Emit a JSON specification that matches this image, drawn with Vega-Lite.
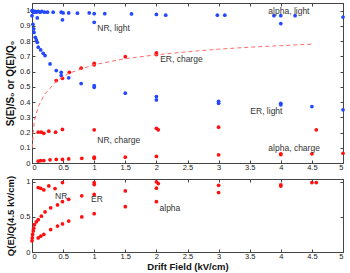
{
  "$schema": "https://vega.github.io/schema/vega-lite/v6.json",
  "padding": {"left": 5, "top": 2, "right": 5, "bottom": 1},
  "spacing": 3,
  "config": {
    "font": "Liberation Sans",
    "view": {"stroke": "#444", "strokeWidth": 1},
    "axis": {"grid": false, "domainColor": "#444", "tickColor": "#444", "tickSize": -3, "labelPadding": 3, "labelFontSize": 7.5, "labelColor": "#222", "titleFontSize": 9.5, "titleFontWeight": "bold", "titleColor": "#111", "labelFont": "Liberation Sans", "titleFont": "Liberation Sans", "format": "~g"},
    "text": {"font": "Liberation Sans", "fontSize": 8.5, "color": "#333"}
  },
  "datasets": {
    "top": [
      {"kind": "light", "x": 0, "y": 1.0}, {"kind": "light", "x": 0.01, "y": 0.995}, {"kind": "light", "x": 0.02, "y": 0.997}, {"kind": "light", "x": 0.03, "y": 0.99}, {"kind": "light", "x": 0.05, "y": 0.995}, {"kind": "light", "x": 0.07, "y": 0.99}, {"kind": "light", "x": 0.1, "y": 0.995}, {"kind": "light", "x": 0.13, "y": 0.99}, {"kind": "light", "x": 0.16, "y": 0.995}, {"kind": "light", "x": 0.2, "y": 0.99}, {"kind": "light", "x": 0.25, "y": 0.99}, {"kind": "light", "x": 0.34, "y": 0.99}, {"kind": "light", "x": 0.47, "y": 0.99}, {"kind": "light", "x": 0.5, "y": 0.985}, {"kind": "light", "x": 0.59, "y": 0.985}, {"kind": "light", "x": 0.73, "y": 0.983}, {"kind": "light", "x": 0.92, "y": 0.985}, {"kind": "light", "x": 1.0, "y": 0.98}, {"kind": "light", "x": 1.17, "y": 0.98},
      {"kind": "light", "x": 0.085, "y": 0.952}, {"kind": "light", "x": 0.49, "y": 0.94}, {"kind": "light", "x": 1.0, "y": 0.923},
      {"kind": "light", "x": 1.6, "y": 0.978}, {"kind": "light", "x": 2.0, "y": 0.975}, {"kind": "light", "x": 2.15, "y": 0.97}, {"kind": "light", "x": 2.98, "y": 0.97}, {"kind": "light", "x": 3.1, "y": 0.97}, {"kind": "light", "x": 3.89, "y": 0.967}, {"kind": "light", "x": 4.0, "y": 0.967}, {"kind": "light", "x": 4.0, "y": 0.915}, {"kind": "light", "x": 4.23, "y": 0.967}, {"kind": "light", "x": 5.0, "y": 0.958},
      {"kind": "light", "x": 0.0, "y": 0.967}, {"kind": "light", "x": 0.016, "y": 0.91}, {"kind": "light", "x": 0.027, "y": 0.88}, {"kind": "light", "x": 0.032, "y": 0.857}, {"kind": "light", "x": 0.053, "y": 0.825}, {"kind": "light", "x": 0.07, "y": 0.808}, {"kind": "light", "x": 0.085, "y": 0.792}, {"kind": "light", "x": 0.1, "y": 0.76}, {"kind": "light", "x": 0.14, "y": 0.742}, {"kind": "light", "x": 0.18, "y": 0.72}, {"kind": "light", "x": 0.21, "y": 0.705}, {"kind": "light", "x": 0.29, "y": 0.65}, {"kind": "light", "x": 0.39, "y": 0.607}, {"kind": "light", "x": 0.47, "y": 0.595}, {"kind": "light", "x": 0.47, "y": 0.574}, {"kind": "light", "x": 0.59, "y": 0.559}, {"kind": "light", "x": 0.79, "y": 0.521}, {"kind": "light", "x": 1.0, "y": 0.508}, {"kind": "light", "x": 1.0, "y": 0.497}, {"kind": "light", "x": 1.5, "y": 0.458}, {"kind": "light", "x": 2.0, "y": 0.436}, {"kind": "light", "x": 2.0, "y": 0.414}, {"kind": "light", "x": 3.0, "y": 0.405}, {"kind": "light", "x": 3.0, "y": 0.392}, {"kind": "light", "x": 4.0, "y": 0.392}, {"kind": "light", "x": 4.0, "y": 0.382}, {"kind": "light", "x": 4.5, "y": 0.37}, {"kind": "light", "x": 5.0, "y": 0.349},
      {"kind": "charge", "x": 0.39, "y": 0.541}, {"kind": "charge", "x": 0.49, "y": 0.556}, {"kind": "charge", "x": 0.6, "y": 0.595}, {"kind": "charge", "x": 0.79, "y": 0.622}, {"kind": "charge", "x": 1.0, "y": 0.654}, {"kind": "charge", "x": 1.0, "y": 0.644}, {"kind": "charge", "x": 1.5, "y": 0.698}, {"kind": "charge", "x": 2.0, "y": 0.722}, {"kind": "charge", "x": 2.0, "y": 0.712},
      {"kind": "charge", "x": 0.1, "y": 0.202}, {"kind": "charge", "x": 0.15, "y": 0.202}, {"kind": "charge", "x": 0.19, "y": 0.195}, {"kind": "charge", "x": 0.27, "y": 0.209}, {"kind": "charge", "x": 0.38, "y": 0.202}, {"kind": "charge", "x": 0.49, "y": 0.22}, {"kind": "charge", "x": 1.0, "y": 0.218}, {"kind": "charge", "x": 2.0, "y": 0.228}, {"kind": "charge", "x": 2.03, "y": 0.218}, {"kind": "charge", "x": 3.0, "y": 0.235}, {"kind": "charge", "x": 4.57, "y": 0.218},
      {"kind": "charge", "x": 0.1, "y": 0.012}, {"kind": "charge", "x": 0.14, "y": 0.016}, {"kind": "charge", "x": 0.19, "y": 0.016}, {"kind": "charge", "x": 0.29, "y": 0.021}, {"kind": "charge", "x": 0.39, "y": 0.023}, {"kind": "charge", "x": 0.49, "y": 0.023}, {"kind": "charge", "x": 0.59, "y": 0.027}, {"kind": "charge", "x": 0.8, "y": 0.031}, {"kind": "charge", "x": 1.0, "y": 0.031}, {"kind": "charge", "x": 1.0, "y": 0.038}, {"kind": "charge", "x": 1.5, "y": 0.038}, {"kind": "charge", "x": 2.0, "y": 0.043}, {"kind": "charge", "x": 3.0, "y": 0.054}, {"kind": "charge", "x": 4.0, "y": 0.06}, {"kind": "charge", "x": 4.0, "y": 0.055}, {"kind": "charge", "x": 4.5, "y": 0.06}, {"kind": "charge", "x": 5.0, "y": 0.064}
    ],
    "curve": [
      {"x": 0.005, "y": 0.1}, {"x": 0.02, "y": 0.2}, {"x": 0.04, "y": 0.28}, {"x": 0.1, "y": 0.37}, {"x": 0.2, "y": 0.45}, {"x": 0.4, "y": 0.54}, {"x": 0.6, "y": 0.59}, {"x": 1.0, "y": 0.645}, {"x": 1.5, "y": 0.685}, {"x": 2.0, "y": 0.71}, {"x": 2.5, "y": 0.73}, {"x": 3.0, "y": 0.747}, {"x": 3.5, "y": 0.76}, {"x": 4.0, "y": 0.77}, {"x": 4.5, "y": 0.78}
    ],
    "toplabels": [
      {"x": 1.05, "y": 0.885, "t": "NR, light"},
      {"x": 3.8, "y": 1.0, "t": "alpha, light"},
      {"x": 2.06, "y": 0.68, "t": "ER, charge"},
      {"x": 3.51, "y": 0.344, "t": "ER, light"},
      {"x": 1.05, "y": 0.148, "t": "NR, charge"},
      {"x": 3.8, "y": 0.1, "t": "alpha, charge"}
    ],
    "bottom": [
      {"x": 0.1, "y": 0.918}, {"x": 0.14, "y": 0.908}, {"x": 0.19, "y": 0.885}, {"x": 0.27, "y": 0.942}, {"x": 0.37, "y": 0.904}, {"x": 0.49, "y": 0.99}, {"x": 1.0, "y": 0.99}, {"x": 1.0, "y": 0.96}, {"x": 1.5, "y": 0.87}, {"x": 2.0, "y": 1.0}, {"x": 2.03, "y": 0.975}, {"x": 2.0, "y": 0.91}, {"x": 3.0, "y": 0.95}, {"x": 3.0, "y": 0.846}, {"x": 4.0, "y": 0.957}, {"x": 4.0, "y": 0.94}, {"x": 4.5, "y": 0.99}, {"x": 4.57, "y": 0.99},
      {"x": 0.0, "y": 0.16}, {"x": 0.005, "y": 0.2}, {"x": 0.01, "y": 0.25}, {"x": 0.02, "y": 0.3}, {"x": 0.027, "y": 0.34}, {"x": 0.04, "y": 0.39}, {"x": 0.07, "y": 0.43}, {"x": 0.1, "y": 0.46}, {"x": 0.15, "y": 0.51}, {"x": 0.21, "y": 0.57}, {"x": 0.3, "y": 0.63}, {"x": 0.41, "y": 0.67}, {"x": 0.49, "y": 0.717}, {"x": 0.59, "y": 0.75}, {"x": 0.8, "y": 0.8}, {"x": 1.0, "y": 0.82},
      {"x": 0.1, "y": 0.2}, {"x": 0.14, "y": 0.225}, {"x": 0.19, "y": 0.25}, {"x": 0.3, "y": 0.32}, {"x": 0.41, "y": 0.37}, {"x": 0.49, "y": 0.4}, {"x": 0.59, "y": 0.44}, {"x": 0.8, "y": 0.5}, {"x": 1.0, "y": 0.545}, {"x": 1.5, "y": 0.646}, {"x": 2.0, "y": 0.717}
    ],
    "bottomlabels": [
      {"x": 0.37, "y": 0.8, "t": "NR"},
      {"x": 0.95, "y": 0.76, "t": "ER"},
      {"x": 2.05, "y": 0.63, "t": "alpha"}
    ]
  },
  "vconcat": [
    {
      "width": 311,
      "height": 160,
      "resolve": {"axis": {"x": "independent", "y": "independent"}},
      "layer": [
        {
          "data": {"name": "top"},
          "mark": {"type": "circle", "size": 14, "opacity": 1},
          "encoding": {
            "x": {"field": "x", "type": "quantitative", "scale": {"domain": [0, 5], "nice": false}, "axis": {"title": null, "values": [0, 0.5, 1, 1.5, 2, 2.5, 3, 3.5, 4, 4.5, 5]}},
            "y": {"field": "y", "type": "quantitative", "scale": {"domain": [0, 1.05], "nice": false}, "axis": {"title": "S(E)/S₀ or Q(E)/Q₀", "titleFontSize": 10, "values": [0, 0.1, 0.2, 0.3, 0.4, 0.5, 0.6, 0.7, 0.8, 0.9, 1], "titlePadding": 4, "labelPadding": 5}},
            "color": {"field": "kind", "type": "nominal", "scale": {"domain": ["light", "charge"], "range": ["#2448ff", "#ff1010"]}, "legend": null}
          }
        },
        {
          "data": {"name": "curve"},
          "mark": {"type": "line", "color": "#ff6a6a", "strokeDash": [4, 3], "strokeWidth": 1},
          "encoding": {
            "x": {"field": "x", "type": "quantitative", "axis": null},
            "y": {"field": "y", "type": "quantitative", "axis": null}
          }
        },
        {
          "data": {"name": "toplabels"},
          "mark": {"type": "text", "align": "left", "baseline": "middle"},
          "encoding": {
            "x": {"field": "x", "type": "quantitative", "axis": null},
            "y": {"field": "y", "type": "quantitative", "axis": null},
            "text": {"field": "t"}
          }
        },
        {
          "data": {"name": "top"},
          "mark": {"type": "circle", "opacity": 0},
          "encoding": {
            "x": {"field": "x", "type": "quantitative", "axis": {"orient": "top", "labels": false, "title": null, "values": [0, 0.5, 1, 1.5, 2, 2.5, 3, 3.5, 4, 4.5, 5]}},
            "y": {"field": "y", "type": "quantitative", "axis": {"orient": "right", "labels": false, "title": null, "values": [0, 0.1, 0.2, 0.3, 0.4, 0.5, 0.6, 0.7, 0.8, 0.9, 1]}}
          }
        }
      ]
    },
    {
      "width": 311,
      "height": 73,
      "resolve": {"axis": {"x": "independent", "y": "independent"}},
      "layer": [
        {
          "data": {"name": "bottom"},
          "mark": {"type": "circle", "size": 14, "opacity": 1, "color": "#ff1010"},
          "encoding": {
            "x": {"field": "x", "type": "quantitative", "scale": {"domain": [0, 5], "nice": false}, "axis": {"title": "Drift Field (kV/cm)", "values": [0, 0.5, 1, 1.5, 2, 2.5, 3, 3.5, 4, 4.5, 5], "titlePadding": 2}},
            "y": {"field": "y", "type": "quantitative", "scale": {"domain": [0, 1.04], "nice": false}, "axis": {"title": "Q(E)/Q(4.5 kV/cm)", "values": [0, 0.5, 1], "titlePadding": 4, "labelPadding": 5}}
          }
        },
        {
          "data": {"name": "bottomlabels"},
          "mark": {"type": "text", "align": "left", "baseline": "middle"},
          "encoding": {
            "x": {"field": "x", "type": "quantitative", "axis": null},
            "y": {"field": "y", "type": "quantitative", "axis": null},
            "text": {"field": "t"}
          }
        },
        {
          "data": {"name": "bottom"},
          "mark": {"type": "circle", "opacity": 0},
          "encoding": {
            "x": {"field": "x", "type": "quantitative", "axis": {"orient": "top", "labels": false, "title": null, "values": [0, 0.5, 1, 1.5, 2, 2.5, 3, 3.5, 4, 4.5, 5]}},
            "y": {"field": "y", "type": "quantitative", "axis": {"orient": "right", "labels": false, "title": null, "values": [0, 0.5, 1]}}
          }
        }
      ]
    }
  ]
}
